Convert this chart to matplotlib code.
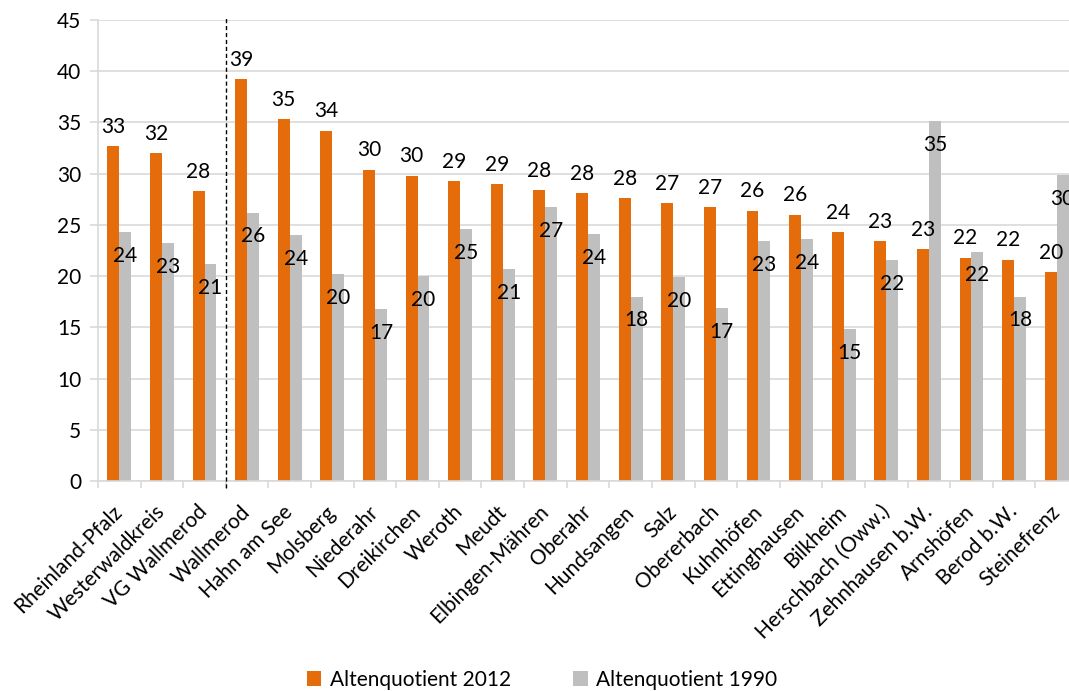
import matplotlib
matplotlib.use("Agg")
import matplotlib.pyplot as plt
import numpy as np

plt.rcParams['font.family'] = ['Lato', 'DejaVu Sans']

gemeinden = ["Rheinland-Pfalz", "Westerwaldkreis", "VG Wallmerod", "Wallmerod",
             "Hahn am See", "Molsberg", "Niederahr", "Dreikirchen", "Weroth",
             "Meudt", "Elbingen-Mähren", "Oberahr", "Hundsangen", "Salz",
             "Obererbach", "Kuhnhöfen", "Ettinghausen", "Bilkheim",
             "Herschbach (Oww.)", "Zehnhausen b.W.", "Arnshöfen", "Berod b.W.",
             "Steinefrenz"]
quote_2012 = [32.7, 32.0, 28.3, 39.2, 35.3, 34.2, 30.4, 29.8, 29.3, 29.0, 28.4,
              28.1, 27.6, 27.1, 26.7, 26.4, 26.0, 24.3, 23.4, 22.6, 21.8, 21.6, 20.4]
quote_1990 = [24.3, 23.2, 21.2, 26.2, 24.0, 20.2, 16.8, 20.0, 24.6, 20.7, 26.7,
              24.1, 18.0, 19.9, 16.9, 23.4, 23.6, 14.8, 21.6, 35.1, 22.4, 18.0, 29.9]

orange = "#E46C0A"
grau = "#BFBFBF"
linie = "#D9D9D9"
fs = 15

fig = plt.figure(figsize=(10.69, 6.91), dpi=100)
ax = fig.add_axes([98/1069, 210/691, 980/1069, 461/691])

x = np.arange(len(gemeinden))
w = 0.28
b1 = ax.bar(x - w/2, quote_2012, w, color=orange, label="Altenquotient 2012", zorder=2)
b2 = ax.bar(x + w/2, quote_1990, w, color=grau, label="Altenquotient 1990", zorder=2)

for rect, v in zip(b1, quote_2012):
    ax.annotate(f"{v:.0f}", (rect.get_x() + rect.get_width()/2, v),
                xytext=(0, 9.6), textcoords="offset points",
                ha="center", va="baseline", fontsize=fs, color="black")
for rect, v in zip(b2, quote_1990):
    ax.annotate(f"{v:.0f}", (rect.get_x() + rect.get_width()/2, v),
                xytext=(0, -21.5), textcoords="offset points",
                ha="center", va="baseline", fontsize=fs, color="black",
                annotation_clip=False)

ax.set_xlim(-0.5, len(gemeinden) - 0.5)
ax.set_ylim(0, 45)
ax.set_yticks(np.arange(0, 46, 5))
ax.yaxis.grid(True, color=linie, lw=1.2, zorder=0)
ax.set_axisbelow(True)

ax.set_xticks(x)
ax.set_xticklabels(gemeinden, rotation=45, ha="right", va="center",
                   rotation_mode="anchor", fontsize=fs)
ax.set_xticks(np.arange(-0.5, len(gemeinden), 1), minor=True)
ax.tick_params(axis="x", which="major", length=0, pad=20)
ax.tick_params(axis="x", which="minor", length=5, color=linie, width=1.2)
ax.tick_params(axis="y", length=6, color=linie, width=1.2, labelsize=fs, pad=6)

for s in ["top", "right"]:
    ax.spines[s].set_visible(False)
for s in ["left", "bottom"]:
    ax.spines[s].set_color(linie)
    ax.spines[s].set_linewidth(1.2)

# Trennlinie zwischen Vergleichsgebieten und Ortsgemeinden
ax.axvline(2.5, ymin=-0.015, ymax=1.007, color="black", lw=1,
           ls=(0, (3, 2)), clip_on=False, zorder=3)

fig.legend(handles=[b1, b2], loc="center", bbox_to_anchor=(0.507, 0.016),
           ncol=2, frameon=False, fontsize=fs, handlelength=0.7,
           handleheight=0.7, handletextpad=0.4, columnspacing=3.0)

fig.savefig("out.png", dpi=100)
